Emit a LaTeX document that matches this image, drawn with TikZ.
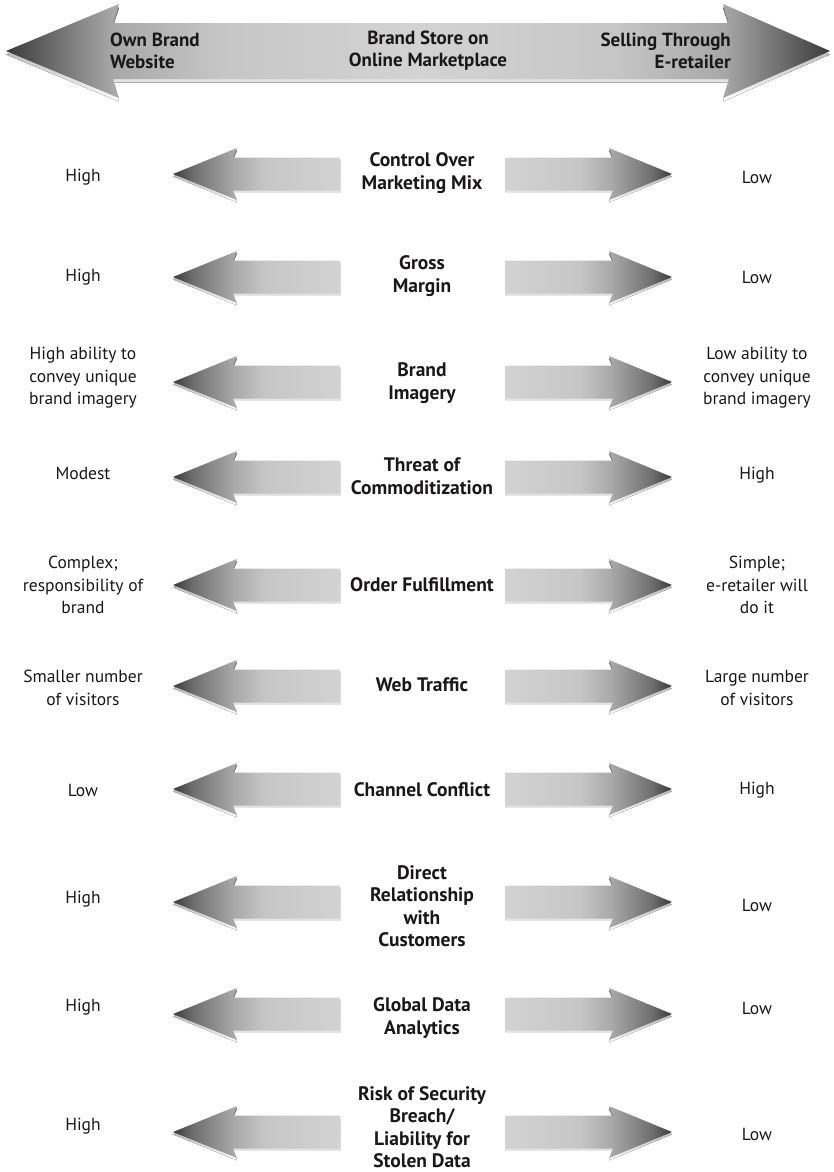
\documentclass[tikz,border=0pt]{standalone}
\usepackage{fontspec}
\setmainfont{PT Sans}

% grey ramps for the arrows
\definecolor{gA}{HTML}{3A3A3A}
\definecolor{gB}{HTML}{6E6E6E}
\definecolor{gC}{HTML}{A8A8A8}
\definecolor{gD}{HTML}{C6C6C6}
\definecolor{gE}{HTML}{D3D3D3}
\definecolor{shade}{HTML}{1C1C1C}
\definecolor{ink}{HTML}{1A1718}

% shaded fill of an arrow pointing left / right (bbox maps to 25bp..75bp)
\pgfdeclarehorizontalshading{pointleft}{100bp}{color(0bp)=(gA); color(25bp)=(gA); color(31bp)=(gB); color(43bp)=(gC); color(52.5bp)=(gD); color(75bp)=(gE); color(100bp)=(gE)}
\pgfdeclarehorizontalshading{pointright}{100bp}{color(0bp)=(gE); color(25bp)=(gE); color(47.5bp)=(gD); color(57bp)=(gC); color(69bp)=(gB); color(75bp)=(gA); color(100bp)=(gA)}
\pgfdeclarehorizontalshading{pointboth}{100bp}{color(0bp)=(gA); color(25bp)=(gA); color(28bp)=(gB); color(31.5bp)=(gC); color(38bp)=(gD); color(50bp)=(gE); color(62bp)=(gD); color(68.5bp)=(gC); color(72bp)=(gB); color(75bp)=(gA); color(100bp)=(gA)}

% small arrow, tip at (#1,#2)
\newcommand\drawleftarrow[2]{%
  \fill[shade,yshift=-2.4bp] (#1,#2) -- ++(64,-26) -- ++(-4,9.5) -- ++(107,0) -- ++(0,33) -- ++(-107,0) -- ++(4,9.5) -- cycle;
  \shade[shading=pointleft] (#1,#2) -- ++(64,-26) -- ++(-4,9.5) -- ++(107,0) -- ++(0,33) -- ++(-107,0) -- ++(4,9.5) -- cycle;}
\newcommand\drawrightarrow[2]{%
  \fill[shade,yshift=-2.4bp] (#1,#2) -- ++(-63,-26) -- ++(4,9.5) -- ++(-108,0) -- ++(0,33) -- ++(108,0) -- ++(-4,9.5) -- cycle;
  \shade[shading=pointright] (#1,#2) -- ++(-63,-26) -- ++(4,9.5) -- ++(-108,0) -- ++(0,33) -- ++(108,0) -- ++(-4,9.5) -- cycle;}

\tikzset{
  sidelabel/.style={align=center, text=ink, inner sep=0pt,
    font=\fontsize{17.5bp}{22.5bp}\selectfont},
  midlabel/.style={align=center, text=ink, inner sep=0pt,
    font=\fontsize{19.5bp}{22.5bp}\selectfont\bfseries},
  toplabel/.style={text=ink, inner sep=0pt,
    font=\fontsize{19bp}{22bp}\selectfont\bfseries},
}

\begin{document}
\begin{tikzpicture}[x=1bp,y=-1bp]
\useasboundingbox (0,0) rectangle (834,1172);

% double-headed scale across the top
\fill[shade,yshift=-3.5bp] (6,51) -- (119,4) -- (113,23) -- (729,23) -- (723,4) -- (830,51) -- (723,98) -- (729,79) -- (113,79) -- (119,98) -- cycle;
\shade[shading=pointboth] (6,51) -- (119,4) -- (113,23) -- (729,23) -- (723,4) -- (830,51) -- (723,98) -- (729,79) -- (113,79) -- (119,98) -- cycle;

\node[toplabel, align=left, anchor=west] (own) at (110,51) {Own Brand\\Website};
\node[toplabel, align=center] (store) at (428,51) {Brand Store on\\Online Marketplace};
\node[toplabel, align=right, anchor=east] (retail) at (731,51) {Selling Through\\E-retailer};

% one row per dimension: arrow y / left label y / left text / middle y / middle text / right y / right text
\foreach \i/\ay/\ly/\lt/\cy/\ct/\ry/\rt in {
  1/174/177/{High}/173/{Control Over\\Marketing Mix}/177/{Low},
  2/277/277/{High}/276/{Gross\\Margin}/277/{Low},
  3/382/378/{High ability to\\convey unique\\brand imagery}/383/{Brand\\Imagery}/378/{Low ability to\\convey unique\\brand imagery},
  4/477/473/{Modest}/476/{Threat of\\Commoditization}/475/{High},
  5/585/585/{Complex;\\responsibility of\\brand}/585/{Order Fulfillment}/585/{Simple;\\e-retailer will\\do it},
  6/686/688/{Smaller number\\of visitors}/685/{Web Traffic}/688/{Large number\\of visitors},
  7/789/790/{Low}/790/{Channel Conflict}/790/{High},
  8/902/899/{High}/906/{Direct\\Relationship\\with\\Customers}/905/{Low},
  9/1014/1007/{High}/1018/{Global Data\\Analytics}/1008/{Low},
  10/1132/1126/{High}/1127/{Risk of Security\\Breach/\\Liability for\\Stolen Data}/1134/{Low}}{
  \drawleftarrow{173}{\ay}
  \drawrightarrow{672}{\ay}
  \node[sidelabel] (left\i) at (83,\ly) {\lt};
  \node[midlabel] (mid\i) at (422,\cy) {\ct};
  \node[sidelabel] (right\i) at (757,\ry) {\rt};
}
\end{tikzpicture}
\end{document}
